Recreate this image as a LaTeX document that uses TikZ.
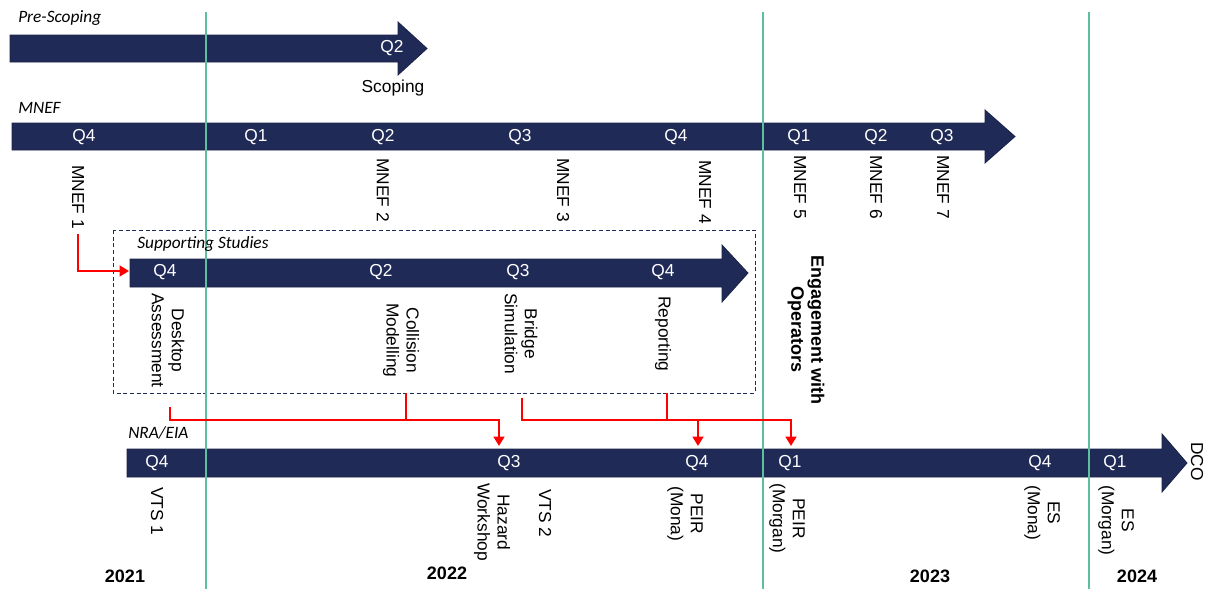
\documentclass[tikz,border=0pt]{standalone}
\usepackage{fontspec}
\setmainfont{Liberation Sans}
\newfontfamily\calibri{Carlito}
\usetikzlibrary{arrows.meta}
\definecolor{navy}{RGB}{32,42,86}
\definecolor{mint}{RGB}{94,190,160}
\definecolor{flowred}{RGB}{255,0,0}
\tikzset{
  band/.style={fill=navy,draw=navy!80!black,line width=0.6pt},
  qlabel/.style={text=white,inner sep=0pt,font=\fontsize{13}{14}\selectfont},
  event/.style={rotate=-90,anchor=west,align=center,inner sep=0pt,font=\fontsize{13}{15}\selectfont},
  stream/.style={anchor=west,inner sep=0pt,font=\calibri\itshape\fontsize{13}{15}\selectfont},
  year/.style={inner sep=0pt,font=\bfseries\fontsize{13.5}{15}\selectfont},
  link/.style={flowred,line width=1.9pt},
  flow/.style={link,-{Triangle[width=8pt,length=7pt]}},
}
\begin{document}
\begin{tikzpicture}[x=0.75pt,y=-0.75pt]
  \useasboundingbox (0,0) rectangle (1206,589);
  % timeline bands
  \draw[band] (10,35) -- (398,35) -- (398,22) -- (427,48.5) -- (398,75) -- (398,62) -- (10,62) -- cycle;
  \draw[band] (12,123) -- (985,123) -- (985,110) -- (1015,136.5) -- (985,163) -- (985,150) -- (12,150) -- cycle;
  \draw[band] (130,259) -- (722,259) -- (722,245) -- (748,273) -- (722,302) -- (722,287) -- (130,287) -- cycle;
  \draw[band] (127,449) -- (1162,449) -- (1162,434) -- (1187,463) -- (1162,492) -- (1162,477) -- (127,477) -- cycle;
  \draw[navy,line width=0.6pt,dash pattern=on 3pt off 2pt] (113,230) rectangle (755,393);
  % year dividers
  \draw[mint,line width=1.8pt] (206,12) -- (206,589) (763,12) -- (763,589) (1089,12) -- (1089,589);
  % stream titles
  \draw
    (18,18) node[stream] (pre){Pre-Scoping}
    (18,108) node[stream] (mnef){MNEF}
    (137,244) node[stream] (sup){Supporting Studies}
    (128,433) node[stream] (nra){NRA/EIA};
  % quarters
  \draw
    (392,48) node[qlabel] (pq2){Q2}
    (84,137) node[qlabel] (mq4a){Q4}
    (256,137) node[qlabel] (mq1a){Q1}
    (383,137) node[qlabel] (mq2a){Q2}
    (520,137) node[qlabel] (mq3a){Q3}
    (676,137) node[qlabel] (mq4b){Q4}
    (799,137) node[qlabel] (mq1b){Q1}
    (876,137) node[qlabel] (mq2b){Q2}
    (942,137) node[qlabel] (mq3b){Q3}
    (165,272) node[qlabel] (sq4a){Q4}
    (381,272) node[qlabel] (sq2){Q2}
    (518,272) node[qlabel] (sq3){Q3}
    (663,272) node[qlabel] (sq4b){Q4}
    (157,463) node[qlabel] (nq4a){Q4}
    (509,463) node[qlabel] (nq3){Q3}
    (697,463) node[qlabel] (nq4b){Q4}
    (790,463) node[qlabel] (nq1a){Q1}
    (1040,463) node[qlabel] (nq4c){Q4}
    (1115,463) node[qlabel] (nq1b){Q1};
  % milestones
  \draw
    (393,88) node[font=\fontsize{13}{14}\selectfont,inner sep=0pt] (scoping){Scoping}
    (78,165) node[event] (mnef1){MNEF 1}
    (383,158) node[event] (mnef2){MNEF 2}
    (563,158) node[event] (mnef3){MNEF 3}
    (705,160) node[event] (mnef4){MNEF 4}
    (800,155) node[event] (mnef5){MNEF 5}
    (876,155) node[event] (mnef6){MNEF 6}
    (943,155) node[event] (mnef7){MNEF 7}
    (168,293) node[event] (desk){Desktop\\Assessment}
    (401,303) node[event] (coll){Collision\\Modelling}
    (521,293) node[event] (brid){Bridge\\Simulation}
    (663,296) node[event] (repo){Reporting}
    (806,255) node[event,font=\bfseries\fontsize{13.5}{15}\selectfont] (engage){Engagement with\\Operators}
    (157,487) node[event] (vts1){VTS 1}
    (492,483) node[event] (hazard){Hazard\\Workshop}
    (545,489) node[event] (vts2){VTS 2}
    (685,486) node[event] (peirmo){PEIR\\(Mona)}
    (787,483) node[event] (peirmg){PEIR\\(Morgan)}
    (1042,485) node[event] (esmo){ES\\(Mona)}
    (1116,485) node[event] (esmg){ES\\(Morgan)}
    (1197,442) node[event] (dco){DCO};
  % years
  \draw
    (125,576) node[year] (y21){2021}
    (447,573) node[year] (y22){2022}
    (930,576) node[year] (y23){2023}
    (1137,576) node[year] (y24){2024};
  % feeds
  \coordinate (m1) at (78,234);
  \coordinate (ss) at (129,271);
  \coordinate (dsk) at (170,407);
  \coordinate (col) at (406,393);
  \coordinate (brg) at (522,398);
  \coordinate (rep) at (667,393);
  \coordinate (jn) at (0,420);
  \coordinate (hw) at (499,446);
  \coordinate (pm) at (698,446);
  \coordinate (pg) at (791,446);
  \begin{scope}
    \draw[flow] (m1) |- (ss);
    \draw[flow] (dsk) -- (dsk |- jn) -| (hw);
    \draw[link] (col) -- (col |- jn);
    \draw[flow] (brg) -- (brg |- jn) -| (pg);
    \draw[link] (rep) -- (rep |- jn);
    \draw[flow] (pm |- jn) -- (pm);
  \end{scope}
\end{tikzpicture}
\end{document}
